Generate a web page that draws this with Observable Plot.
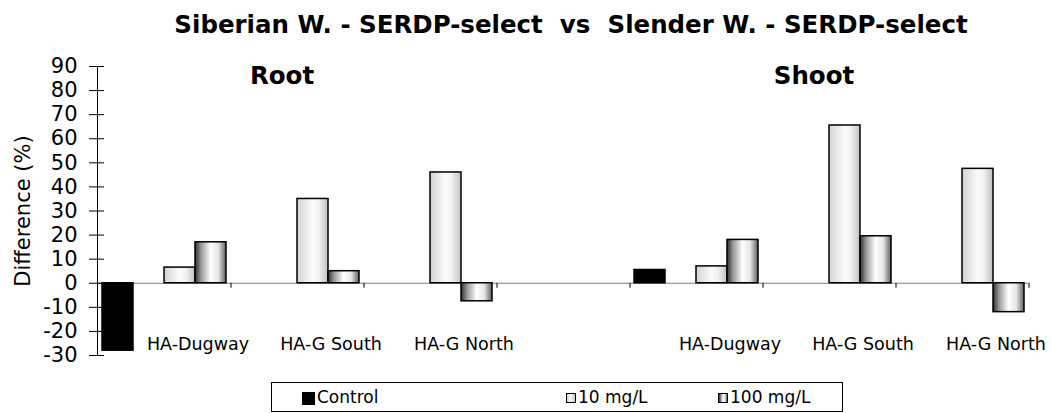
<!DOCTYPE html>
<html><head><meta charset="utf-8">
<script src="https://cdn.jsdelivr.net/npm/d3@7"></script>
<script src="https://cdn.jsdelivr.net/npm/@observablehq/plot@0.6"></script>
<style>
body{margin:0;background:#fff;font-family:"DejaVu Sans",sans-serif;color:#000}
#wrap{width:1052px;height:413px;overflow:hidden}
#title{box-sizing:border-box;height:44px;padding:10px 0 0 90px;text-align:center;font-weight:bold;font-size:24.5px;white-space:pre;line-height:normal}
#legend{position:relative;box-sizing:border-box;margin:10px 0 0 271px;width:572px;height:30px;border:1px solid #000}
.sw{position:absolute;box-sizing:border-box;border:1px solid #000}
.lt{position:absolute;top:0;line-height:28px;font-size:17px;white-space:pre}
</style></head>
<body>
<div id="wrap">
  <div id="title"></div>
  <div id="chart"></div>
  <div id="legend"></div>
</div>
<script>
// ---- data ----
const title = "Siberian W. - SERDP-select  vs  Slender W. - SERDP-select";
const panels = ["Root", "Shoot"];
const sites = ["HA-Dugway", "HA-G South", "HA-G North"];
const series = ["Control", "10 mg/L", "100 mg/L"];
const controlValues = [-28, 5.5];            // Root, Shoot
const rootValues10 = [6.5, 35, 46];
const rootValues100 = [17, 5, -7.5];
const shootValues10 = [7, 65.5, 47.5];
const shootValues100 = [18, 19.5, -12];
const yTicks = [-30, -20, -10, 0, 10, 20, 30, 40, 50, 60, 70, 80, 90];
const yLabel = "Difference (%)";

// ---- build table ----
const key = (p, s) => p + " | " + s;
const spacer = "spacer";
const fxDomain = [...sites.map(s => key("Root", s)), spacer, ...sites.map(s => key("Shoot", s))];
const slots = [series[0], "blank", series[1], series[2]];
const values10 = [rootValues10, shootValues10];
const values100 = [rootValues100, shootValues100];
const rows = [];
panels.forEach((p, i) => {
  rows.push({fx: key(p, sites[0]), slot: series[0], value: controlValues[i]});
  sites.forEach((s, j) => {
    rows.push({fx: key(p, s), slot: series[1], value: values10[i][j]});
    rows.push({fx: key(p, s), slot: series[2], value: values100[i][j]});
  });
});
const labelRows = panels.flatMap(p => sites.map(s => ({fx: key(p, s), site: s})));

document.getElementById("title").textContent = title;

const chart = Plot.plot({
  width: 1052,
  height: 328,
  marginLeft: 95,
  marginRight: 22,
  marginTop: 22,
  marginBottom: 17,
  style: {fontFamily: "DejaVu Sans", fontSize: "21px", color: "#000", background: "#fff"},
  fx: {domain: fxDomain, padding: 0, axis: null},
  x: {domain: slots, paddingInner: 0, paddingOuter: 0.137, axis: null},
  y: {domain: [-30, 90]},
  marks: [
    Plot.ruleY([0], {stroke: "#808080", strokeWidth: 1}),
    Plot.ruleX(fxDomain, {fx: d => d, x: () => series[2], y1: () => 0, y2: () => 0, insetBottom: -5, dx: 20, stroke: "#000"}),
    Plot.barY(rows.filter(d => d.slot === series[0]), {fx: "fx", x: "slot", y: "value", fill: "#000", stroke: "#000", strokeWidth: 1.5}),
    Plot.barY(rows.filter(d => d.slot === series[1]), {fx: "fx", x: "slot", y: "value", fill: "url(#g10)", stroke: "#000", strokeWidth: 1.5}),
    Plot.barY(rows.filter(d => d.slot === series[2]), {fx: "fx", x: "slot", y: "value", fill: "url(#g100)", stroke: "#000", strokeWidth: 1.5}),
    Plot.frame({anchor: "left", facetAnchor: "left", stroke: "#000"}),
    Plot.axisY({ticks: yTicks, tickSize: 15, dx: 7, tickFormat: () => "", label: null, stroke: "#000"}),
    Plot.axisY({ticks: yTicks, tickSize: 0, tickPadding: 20, fontSize: 21, tickFormat: d => String(d), label: yLabel, labelAnchor: "center", labelOffset: 82, labelArrow: "none"}),
    Plot.text(labelRows, {fx: "fx", text: "site", frameAnchor: "bottom", dy: -6, dx: 34, fontSize: 17.5, fill: "#000"}),
    Plot.text(panels, {fx: p => key(p, sites[1]), text: d => d, frameAnchor: "top", dx: -15, fontSize: 24.5, fontWeight: "bold", fill: "#000"})
  ]
});

const svg = chart.tagName.toLowerCase() === "svg" ? chart : chart.querySelector("svg");
const defs = d3.select(svg).insert("defs", ":first-child");
function grad(id, stops) {
  const g = defs.append("linearGradient").attr("id", id).attr("x1", "0").attr("x2", "1").attr("y1", "0").attr("y2", "0");
  stops.forEach(([o, c]) => g.append("stop").attr("offset", o).attr("stop-color", c));
}
grad("g10", [[0, "#d2d2d2"], [0.5, "#fbfbfb"], [0.7, "#f2f2f2"], [1, "#c0c0c0"]]);
grad("g100", [[0, "#2e2e2e"], [0.2, "#9a9a9a"], [0.5, "#ffffff"], [0.75, "#e6e6e6"], [1, "#5e5e5e"]]);
document.getElementById("chart").appendChild(chart);

// ---- legend ----
const legend = document.getElementById("legend");
const legendLayout = [
  {sw: 30, top: 9, size: 13, txt: 45, bg: "#000"},
  {sw: 294, top: 10, size: 10, txt: 306, bg: "linear-gradient(to right,#d2d2d2,#fbfbfb,#c0c0c0)"},
  {sw: 446, top: 10, size: 10, txt: 458, bg: "linear-gradient(to right,#2e2e2e,#ffffff 50%,#e6e6e6,#5e5e5e)"}
];
series.forEach((s, i) => {
  const L = legendLayout[i];
  const sw = document.createElement("div");
  sw.className = "sw";
  sw.style.cssText = `left:${L.sw}px;top:${L.top}px;width:${L.size}px;height:${L.size}px;background:${L.bg}`;
  legend.appendChild(sw);
  const t = document.createElement("div");
  t.className = "lt";
  t.style.left = L.txt + "px";
  t.textContent = s;
  legend.appendChild(t);
});
</script>
</body></html>
